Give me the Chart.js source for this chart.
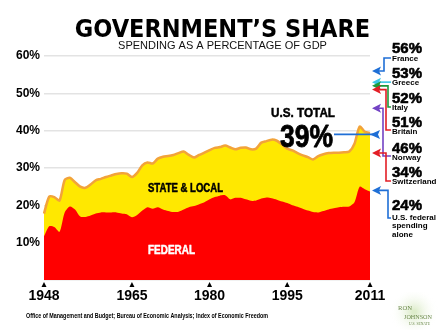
<!DOCTYPE html>
<html><head><meta charset="utf-8">
<script src="https://cdn.jsdelivr.net/npm/chart.js@4"></script>
<style>html,body{margin:0;padding:0;background:#fff;}#wrap{width:445px;height:333px;position:relative;}</style>
</head><body><div id="wrap"><canvas id="c" width="445" height="333"></canvas></div>
<script>
// ---- data ----
const years = [1948,1949,1950,1951,1952,1953,1954,1955,1956,1957,1958,1959,1960,1961,1962,1963,1964,1965,1966,1967,1968,1969,1970,1971,1972,1973,1974,1975,1976,1977,1978,1979,1980,1981,1982,1983,1984,1985,1986,1987,1988,1989,1990,1991,1992,1993,1994,1995,1996,1997,1998,1999,2000,2001,2002,2003,2004,2005,2006,2007,2008,2009,2010,2011];
const totalShare = [17.8,22.3,22.2,21.3,26.8,27.4,26.2,25.0,24.7,25.6,26.7,27.1,27.6,28.0,28.4,28.6,28.5,27.6,28.7,30.7,31.5,31.2,32.5,33.0,33.2,33.5,34.0,34.4,33.5,32.8,33.5,34.1,34.8,35.4,35.6,36.0,35.5,35.0,35.4,35.5,35.0,35.2,36.8,37.2,37.6,37.3,36.3,35.2,34.7,34.0,33.4,32.9,32.3,33.2,33.7,34.0,34.1,34.1,34.2,34.4,36.5,41.1,39.7,39.4];
const federalShare = [11.7,14.4,14.2,12.9,18.1,19.7,18.9,17.0,16.9,17.3,17.8,18.1,18.1,18.1,18.1,17.8,17.6,16.8,17.4,18.6,19.5,19.1,19.5,18.9,18.5,18.2,18.3,18.9,19.5,19.8,20.3,20.8,21.6,22.2,22.6,22.7,21.6,22.0,22.0,21.6,21.2,21.3,21.8,22.1,21.9,21.5,21.0,20.6,20.0,19.6,19.1,18.6,18.2,18.1,18.5,18.9,19.2,19.5,19.6,19.7,20.8,25.0,24.3,23.7];
const tickYears = [1948,1965,1980,1995,2011];
const yTicks = [10,20,30,40,50,60];
const countries = ['France','Greece','Italy','Britain','Norway','Switzerland'];
const countryShares = [56,53,52,51,46,34];
const usTotal2011 = 39;
const usFederal2011 = 24;
const sourceText = 'Office of Management and Budget; Bureau of Economic Analysis; Index of Economic Freedom';

// ---- drawing helpers ----
const SANS = "'Liberation Sans', Arial, sans-serif";
function txt(ctx, s, x, y, font, color, w, stroke){
  ctx.save(); ctx.font = font; ctx.fillStyle = color; ctx.textBaseline = 'alphabetic'; ctx.textAlign = 'left';
  const m = ctx.measureText(s).width; const sx = w ? w / m : 1;
  ctx.translate(x, y); ctx.scale(sx, 1);
  if (stroke) { ctx.strokeStyle = color; ctx.lineWidth = stroke; ctx.lineJoin = 'round'; ctx.strokeText(s, 0, 0); }
  ctx.fillText(s, 0, 0); ctx.restore();
}
function arrow(ctx, tipX, y, color, pts, len){
  len = len || 9;
  ctx.save();
  ctx.fillStyle = color; ctx.beginPath();
  ctx.moveTo(tipX, y); ctx.lineTo(tipX + len, y - 4.5); ctx.lineTo(tipX + len - 2, y); ctx.lineTo(tipX + len, y + 4.5); ctx.closePath(); ctx.fill();
  ctx.strokeStyle = color; ctx.lineWidth = 1.6; ctx.beginPath(); ctx.moveTo(tipX + len - 2, y);
  pts.forEach(p => ctx.lineTo(p[0], p[1])); ctx.stroke();
  ctx.restore();
}

const annot = {
  id: 'annot',
  afterDraw(chart){
    const ctx = chart.ctx, xs = chart.scales.x, ys = chart.scales.y;
    // tick markers
    ctx.save(); ctx.fillStyle = '#000';
    tickYears.forEach(yr => {
      const x = xs.getPixelForValue(years.indexOf(yr));
      ctx.beginPath(); ctx.moveTo(x - 2.5, 287); ctx.lineTo(x + 2.5, 287); ctx.lineTo(x, 282); ctx.closePath(); ctx.fill();
    });
    ctx.restore();
    // area labels
    txt(ctx, 'STATE & LOCAL', 148, 192, "bold 12px " + SANS, '#000', 75, 0.5);
    txt(ctx, 'FEDERAL', 148, 254, "bold 12px " + SANS, '#fff', 47, 0.5);
    txt(ctx, 'U.S. TOTAL', 271, 117, "bold 13px " + SANS, '#000', 64, 0.5);
    txt(ctx, usTotal2011 + '%', 280, 147, "bold 31px " + SANS, '#000', 53, 0.8);
    // US total arrow
    const tipX = chart.chartArea.right;
    const yTot = ys.getPixelForValue(usTotal2011);
    arrow(ctx, tipX, yTot, '#1f6fd6', [[334, yTot]], 10);
    // countries
    const lay = [
      {pb:53, nb:61, color:'#1f6fd6', path:(y)=>[[384,y],[384,58],[391,58]]},
      {pb:78, nb:85, color:'#3cc6e6', path:(y)=>[[391,y]]},
      {pb:103, nb:110, color:'#1d9a3b', path:(y)=>[[388,y],[388,107],[391,107]]},
      {pb:127, nb:134, color:'#e31e26', path:(y)=>[[386,y],[386,130],[391,130]]},
      {pb:153, nb:160, color:'#7343c4', path:(y)=>[[383,y],[383,156],[391,156]]},
      {pb:177, nb:184, color:'#e31e26', path:(y)=>[[386,y],[386,181],[391,181]]}
    ];
    countries.forEach((c, i) => {
      const L = lay[i]; const y = ys.getPixelForValue(countryShares[i]);
      arrow(ctx, 372, y, L.color, L.path(y));
      txt(ctx, countryShares[i] + '%', 392, L.pb, "bold 15px " + SANS, '#000', 30, 0.6);
      txt(ctx, c, 392, L.nb, "bold 8px " + SANS, '#000');
    });
    const yFed = ys.getPixelForValue(usFederal2011);
    arrow(ctx, 372, yFed, '#1f6fd6', [[388, yFed],[388,218],[391,218]]);
    txt(ctx, usFederal2011 + '%', 392, 210, "bold 15px " + SANS, '#000', 30, 0.6);
    txt(ctx, 'U.S. federal', 392, 220, "bold 8px " + SANS, '#000');
    txt(ctx, 'spending', 392, 228, "bold 8px " + SANS, '#000');
    txt(ctx, 'alone', 392, 237, "bold 8px " + SANS, '#000');
    // source
    txt(ctx, sourceText, 26, 318, "bold 6.5px " + SANS, '#000', 242);
    // logo
    ctx.save();
    const g = ctx.createRadialGradient(414, 312, 2, 414, 312, 24);
    g.addColorStop(0, 'rgba(200,225,170,0.6)'); g.addColorStop(1, 'rgba(255,255,255,0)');
    ctx.fillStyle = g; ctx.fillRect(388, 292, 52, 38);
    ctx.restore();
    txt(ctx, 'RON', 398, 310, "7px 'Liberation Serif', serif", '#6c8a4c', 14);
    txt(ctx, 'JOHNSON', 404, 319, "7px 'Liberation Serif', serif", '#6c8a4c', 28);
    txt(ctx, 'U.S. SENATE', 409, 325, "4px 'Liberation Serif', serif", '#6c8a4c', 21);
  }
};

new Chart(document.getElementById('c'), {
  type: 'line',
  data: { labels: years, datasets: [
    { label: 'Federal', data: federalShare, fill: 'origin', backgroundColor: '#ff0000', borderColor: '#ff0000', borderWidth: 0, pointRadius: 0, tension: 0.25 },
    { label: 'Total', data: totalShare, fill: 'origin', backgroundColor: '#ffe800', borderColor: '#f2a33a', borderWidth: 2.5, pointRadius: 0, tension: 0.25 }
  ]},
  options: {
    responsive: false, animation: false, devicePixelRatio: 1,
    layout: { padding: { left: 0, right: 0, top: 0, bottom: 0 } },
    plugins: {
      legend: { display: false }, tooltip: { enabled: false },
      title: { display: true, text: 'GOVERNMENT’S SHARE', color: '#000',
        font: { family: "'DejaVu Sans Condensed','DejaVu Sans',sans-serif", size: 25, weight: 'bold', lineHeight: 1 },
        padding: { top: 18, bottom: 0 } },
      subtitle: { display: true, text: 'SPENDING AS A PERCENTAGE OF GDP', color: '#111',
        font: { family: SANS, size: 11, weight: 'normal', lineHeight: 0.6 },
        padding: { top: 0, bottom: 6.4 } }
    },
    scales: {
      x: { type: 'category', offset: false, grid: { display: false, drawTicks: false }, border: { display: false },
        ticks: { autoSkip: false, maxRotation: 0, minRotation: 0, padding: 8, color: '#000',
          font: { family: SANS, size: 14, weight: 'bold' },
          callback: function(v, i){ const yr = years[i]; return tickYears.includes(yr) ? String(yr) : null; } },
        afterFit: function(s){ s.height = 53; } },
      y: { min: 0, max: 60, grid: { color: '#e3e3e3', lineWidth: 1.5, drawTicks: false }, border: { display: false },
        afterBuildTicks: function(s){ s.ticks = [0].concat(yTicks).map(v => ({ value: v })); },
        ticks: { padding: 4, color: '#000', font: { family: SANS, size: 12, weight: 'bold' },
          callback: v => v === 0 ? '' : v + '%' },
        afterFit: function(s){ s.width = 44; } },
      side: { position: 'right', display: true, grid: { display: false, drawTicks: false }, border: { display: false },
        ticks: { display: false }, afterFit: function(s){ s.width = 75; } }
    }
  },
  plugins: [annot]
});
</script></body></html>
